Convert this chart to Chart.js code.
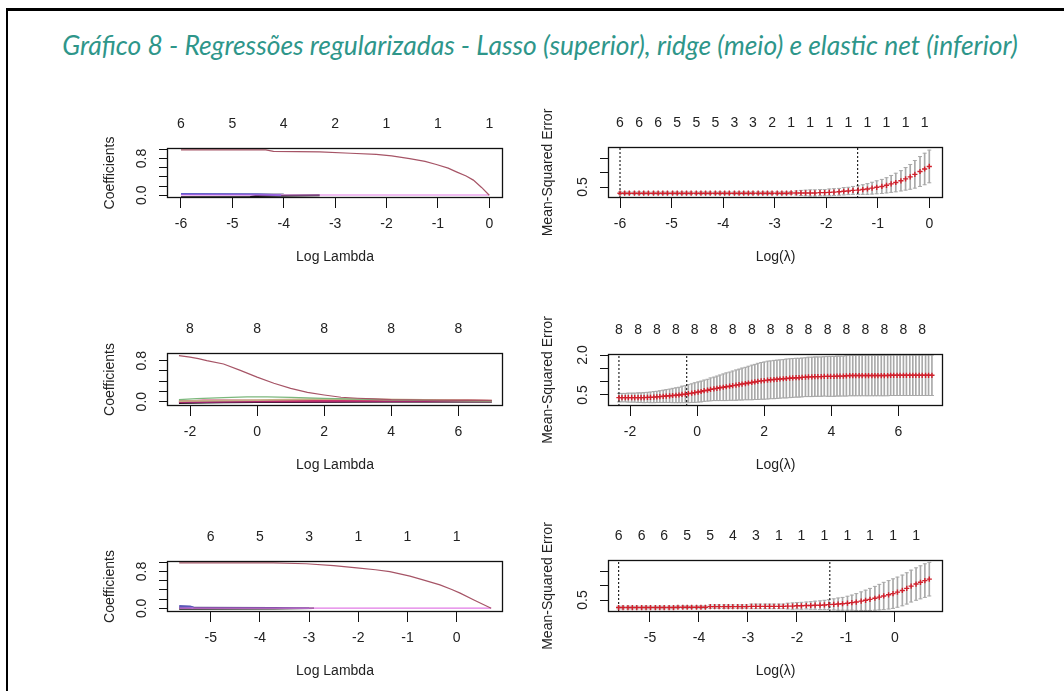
<!DOCTYPE html>
<html><head><meta charset="utf-8">
<script src="https://cdn.jsdelivr.net/npm/chart.js@4.4.1/dist/chart.umd.min.js"></script>
<style>
html,body{margin:0;padding:0;background:#fff;}
body{width:1064px;height:691px;position:relative;overflow:hidden;}
#frame{position:absolute;left:6px;top:8px;width:1100px;height:720px;border-left:2px solid #000;border-top:3px solid #000;box-sizing:border-box;}
#title{position:absolute;left:0;top:30px;white-space:nowrap;font-family:Lato,'Open Sans',sans-serif;font-style:italic;font-size:22px;line-height:1;color:#2e968a;}
canvas{position:absolute;}
</style></head><body>
<div id="frame"></div>
<div id="title">Gráfico 8 - Regressões regularizadas - Lasso (superior), ridge (meio) e elastic net (inferior)</div>
<script>
// ---------------- DATA ----------------
// Lasso: coefficient paths
const lassoCoefTopAt = [-6,-5,-4,-3,-2,-1,0];
const lassoCoefTopLabels = ['6','5','4','2','1','1','1'];
const lassoMainX = [-6.0,-4.35,-4.2,-3.3,-2.7,-2.2,-1.9,-1.55,-1.25,-1.03,-0.8,-0.64,-0.45,-0.31,-0.15,0.0];
const lassoMainY = [0.99,0.99,0.955,0.945,0.915,0.89,0.86,0.80,0.74,0.67,0.59,0.51,0.42,0.33,0.17,0.0];
const lassoZeroX = [-6.0,0.0];
const lassoZeroY = [0.005,0.005];
const lassoGrayX = [-6.0,-4.0];
const lassoGrayY = [0.035,0.03];
const lassoBlueX = [-6.0,-4.5,-4.05];
const lassoBlueY = [0.025,0.02,0.0];
const lassoBlackX = [-6.0,-4.65,-4.55,-3.3];
const lassoBlackY = [-0.045,-0.04,-0.015,0.0];

// Lasso: cross-validation
const lassoLogLambda = [-6.00,-5.91,-5.82,-5.72,-5.63,-5.54,-5.45,-5.35,-5.26,-5.17,
-5.08,-4.98,-4.89,-4.80,-4.71,-4.62,-4.52,-4.43,-4.34,-4.25,
-4.15,-4.06,-3.97,-3.88,-3.78,-3.69,-3.60,-3.51,-3.42,-3.32,
-3.23,-3.14,-3.05,-2.95,-2.86,-2.77,-2.68,-2.58,-2.49,-2.40,
-2.31,-2.22,-2.12,-2.03,-1.94,-1.85,-1.75,-1.66,-1.57,-1.48,
-1.38,-1.29,-1.20,-1.11,-1.02,-0.92,-0.83,-0.74,-0.65,-0.55,
-0.46,-0.37,-0.28,-0.18,-0.09,0.00];
const lassoCvm = [0.28,0.28,0.28,0.28,0.28,0.28,0.28,0.28,0.28,0.28,
0.28,0.28,0.28,0.28,0.28,0.28,0.28,0.28,0.28,0.28,
0.28,0.28,0.28,0.28,0.28,0.28,0.28,0.28,0.28,0.28,
0.28,0.28,0.28,0.28,0.28,0.28,0.29,0.29,0.29,0.29,
0.29,0.29,0.30,0.30,0.31,0.32,0.33,0.35,0.36,0.38,
0.39,0.41,0.43,0.46,0.49,0.52,0.56,0.61,0.66,0.72,
0.79,0.86,0.95,1.05,1.14,1.23];
const lassoCvsd = [0.05,0.05,0.05,0.05,0.05,0.05,0.05,0.05,0.05,0.05,
0.05,0.05,0.05,0.05,0.05,0.05,0.05,0.05,0.05,0.05,
0.05,0.05,0.05,0.05,0.05,0.05,0.05,0.05,0.05,0.05,
0.05,0.05,0.05,0.05,0.05,0.05,0.05,0.07,0.09,0.10,
0.11,0.11,0.11,0.11,0.12,0.12,0.12,0.13,0.13,0.14,
0.15,0.17,0.19,0.21,0.23,0.25,0.27,0.30,0.33,0.36,
0.40,0.44,0.49,0.53,0.56,0.58];
const lassoCvLines = [-6.00,-1.39];
const lassoCvTopAt = [-6.00,-5.63,-5.26,-4.89,-4.52,-4.15,-3.78,-3.42,-3.05,-2.68,-2.31,-1.94,-1.57,-1.20,-0.83,-0.46,-0.09];
const lassoCvTopLabels = ['6','6','6','5','5','5','3','3','2','1','1','1','1','1','1','1','1'];

// Ridge: coefficient paths
const ridgeCoefTopAt = [-2,0,2,4,6];
const ridgeCoefTopLabels = ['8','8','8','8','8'];
const ridgeMainX = [-2.33,-2.0,-1.75,-1.5,-1.0,-0.5,0.0,0.5,1.0,1.5,2.0,2.5,3.0,3.5,4.0,5.0,6.0,7.0];
const ridgeMainY = [0.90,0.87,0.84,0.80,0.735,0.61,0.48,0.36,0.26,0.18,0.13,0.086,0.066,0.053,0.04,0.03,0.025,0.02];
const ridgeGreenX = [-2.33,-1.8,-1.0,-0.3,0.3,1.0,2.0,3.0,4.0,5.5,7.0];
const ridgeGreenY = [0.04,0.06,0.08,0.095,0.095,0.085,0.065,0.05,0.035,0.02,0.01];
const ridgeTanX = [-2.33,0.0,1.7,2.5,3.6,5.0,7.0];
const ridgeTanY = [0.01,0.03,0.05,0.05,0.045,0.035,0.02];
const ridgeCrimsonX = [-2.33,-1.6,-1.0,0.0,1.0,2.0,4.0,6.3,7.0];
const ridgeCrimsonY = [0.0,0.025,0.025,0.02,0.015,0.02,0.025,0.03,0.02];
const ridgeMagentaX = [-2.33,-0.8,0.0,1.0,1.7,3.0,7.0];
const ridgeMagentaY = [-0.015,-0.005,0.0,0.0,0.0,0.005,0.005];
const ridgeBlackX = [-2.33,-1.5,-1.0,0.0,1.0,2.0,4.0,7.0];
const ridgeBlackY = [-0.03,-0.02,-0.015,-0.01,-0.01,-0.005,0.0,0.0];
const ridgeGrayX = [-2.33,0.5,1.7,3.0,7.0];
const ridgeGrayY = [0.015,-0.01,-0.01,0.0,0.0];

// Ridge: cross-validation
const ridgeLogLambda = [-2.33,-2.24,-2.14,-2.05,-1.95,-1.86,-1.76,-1.67,-1.58,-1.48,
-1.39,-1.29,-1.20,-1.11,-1.01,-0.92,-0.82,-0.73,-0.63,-0.54,
-0.45,-0.35,-0.26,-0.16,-0.07,0.03,0.12,0.21,0.31,0.40,
0.50,0.59,0.68,0.78,0.87,0.97,1.06,1.16,1.25,1.34,
1.44,1.53,1.63,1.72,1.81,1.91,2.00,2.10,2.19,2.29,
2.38,2.47,2.57,2.66,2.76,2.85,2.95,3.04,3.13,3.23,
3.32,3.42,3.51,3.60,3.70,3.79,3.89,3.98,4.08,4.17,
4.26,4.36,4.45,4.55,4.64,4.73,4.83,4.92,5.02,5.11,
5.21,5.30,5.39,5.49,5.58,5.68,5.77,5.86,5.96,6.05,
6.15,6.24,6.34,6.43,6.52,6.62,6.71,6.81,6.90,7.00];
const ridgeCvm = [0.40,0.40,0.40,0.40,0.40,0.40,0.40,0.40,0.40,0.41,
0.41,0.42,0.43,0.44,0.45,0.46,0.47,0.48,0.49,0.50,
0.52,0.53,0.55,0.57,0.59,0.61,0.63,0.66,0.68,0.71,
0.73,0.75,0.77,0.79,0.81,0.83,0.85,0.87,0.89,0.91,
0.93,0.95,0.97,0.99,1.01,1.03,1.04,1.06,1.07,1.08,
1.09,1.10,1.11,1.12,1.13,1.14,1.15,1.15,1.16,1.17,
1.18,1.18,1.19,1.19,1.19,1.20,1.20,1.20,1.20,1.21,
1.21,1.21,1.22,1.23,1.23,1.23,1.23,1.23,1.23,1.23,
1.23,1.23,1.23,1.23,1.23,1.23,1.24,1.24,1.24,1.24,
1.24,1.24,1.24,1.24,1.24,1.24,1.24,1.24,1.24,1.24];
const ridgeCvsd = [0.16,0.16,0.16,0.17,0.17,0.17,0.18,0.18,0.19,0.19,
0.20,0.21,0.21,0.22,0.23,0.24,0.25,0.27,0.28,0.29,
0.31,0.32,0.34,0.35,0.37,0.38,0.39,0.40,0.41,0.43,
0.44,0.46,0.48,0.50,0.52,0.53,0.55,0.57,0.58,0.60,
0.61,0.63,0.65,0.66,0.68,0.69,0.70,0.71,0.71,0.72,
0.72,0.72,0.72,0.73,0.73,0.73,0.73,0.73,0.73,0.73,
0.74,0.74,0.74,0.74,0.74,0.74,0.75,0.75,0.75,0.75,
0.75,0.75,0.76,0.76,0.76,0.76,0.76,0.76,0.76,0.76,
0.76,0.76,0.76,0.76,0.76,0.76,0.76,0.76,0.76,0.76,
0.76,0.76,0.76,0.76,0.76,0.76,0.76,0.76,0.76,0.76];
const ridgeCvLines = [-2.33,-0.31];
const ridgeCvTopAt = [-2.33,-1.76,-1.20,-0.63,-0.07,0.50,1.06,1.63,2.19,2.76,3.32,3.89,4.45,5.02,5.58,6.15,6.71];
const ridgeCvTopLabels = ['8','8','8','8','8','8','8','8','8','8','8','8','8','8','8','8','8'];

// Elastic net: coefficient paths
const enetCoefTopAt = [-5,-4,-3,-2,-1,0];
const enetCoefTopLabels = ['6','5','3','1','1','1'];
const enetMainX = [-5.64,-3.73,-3.06,-2.5,-2.03,-1.65,-1.36,-0.95,-0.65,-0.34,-0.1,0.07,0.35,0.70];
const enetMainY = [0.99,0.99,0.97,0.93,0.88,0.84,0.80,0.70,0.61,0.51,0.41,0.33,0.18,0.0];
const enetZeroX = [-5.64,0.70];
const enetZeroY = [0.005,0.005];
const enetBlueX = [-5.64,-5.42,-5.35];
const enetBlueY = [0.045,0.035,0.015];
const enetNavyX = [-5.64,-3.7,-3.0];
const enetNavyY = [0.018,0.012,0.0];
const enetBlackX = [-5.64,-3.7,-2.9];
const enetBlackY = [-0.012,-0.008,0.0];

// Elastic net: cross-validation
const enetLogLambda = [-5.64,-5.55,-5.45,-5.36,-5.27,-5.17,-5.08,-4.99,-4.89,-4.80,
-4.71,-4.61,-4.52,-4.43,-4.33,-4.24,-4.15,-4.05,-3.96,-3.87,
-3.77,-3.68,-3.59,-3.49,-3.40,-3.31,-3.21,-3.12,-3.03,-2.93,
-2.84,-2.75,-2.65,-2.56,-2.47,-2.37,-2.28,-2.19,-2.09,-2.00,
-1.91,-1.81,-1.72,-1.63,-1.53,-1.44,-1.35,-1.25,-1.16,-1.07,
-0.97,-0.88,-0.79,-0.69,-0.60,-0.51,-0.41,-0.32,-0.23,-0.13,
-0.04,0.05,0.15,0.24,0.33,0.43,0.52,0.61,0.70];
const enetCvm = [0.24,0.24,0.24,0.24,0.24,0.24,0.24,0.24,0.24,0.24,
0.24,0.24,0.24,0.25,0.25,0.25,0.25,0.25,0.25,0.25,
0.27,0.27,0.27,0.27,0.27,0.27,0.27,0.27,0.27,0.28,
0.28,0.28,0.28,0.28,0.28,0.28,0.28,0.29,0.29,0.30,
0.30,0.31,0.31,0.32,0.32,0.33,0.34,0.35,0.36,0.37,
0.39,0.41,0.43,0.46,0.49,0.52,0.56,0.60,0.64,0.68,
0.72,0.77,0.83,0.90,0.98,1.05,1.11,1.17,1.22];
const enetCvsd = [0.05,0.05,0.05,0.05,0.05,0.05,0.05,0.05,0.05,0.05,
0.05,0.05,0.05,0.05,0.05,0.05,0.05,0.05,0.05,0.05,
0.06,0.06,0.06,0.06,0.06,0.06,0.06,0.06,0.06,0.08,
0.08,0.08,0.08,0.08,0.08,0.08,0.08,0.10,0.11,0.11,
0.12,0.12,0.13,0.14,0.15,0.16,0.17,0.19,0.21,0.22,
0.24,0.26,0.29,0.32,0.35,0.38,0.41,0.44,0.47,0.49,
0.51,0.52,0.53,0.54,0.55,0.56,0.57,0.58,0.58];
const enetCvLines = [-5.64,-1.33];
const enetCvTopAt = [-5.64,-5.17,-4.71,-4.24,-3.77,-3.31,-2.84,-2.37,-1.91,-1.44,-0.97,-0.51,-0.04,0.43];
const enetCvTopLabels = ['6','6','6','5','5','4','3','1','1','1','1','1','1','1'];

// ---------------- TITLE ----------------
(function(){
  const t = document.getElementById('title');
  const w0 = t.getBoundingClientRect().width;
  const fs = 22 * 956 / w0;
  t.style.fontSize = fs + 'px';
  const w1 = t.getBoundingClientRect().width;
  t.style.left = (540 - w1/2) + 'px';
  const probe = document.createElement('span');
  probe.style.display = 'inline-block'; probe.style.width = '0'; probe.style.height = '0'; probe.style.verticalAlign = 'baseline';
  t.appendChild(probe);
  const base = probe.getBoundingClientRect().top;
  const top0 = t.getBoundingClientRect().top;
  t.style.top = (top0 + (54.5 - base)) + 'px';
})();

// ---------------- CHARTS ----------------
Chart.defaults.font.family = "'Liberation Sans', Arial, Helvetica, sans-serif";
Chart.defaults.font.size = 14;
Chart.defaults.color = '#222';
Chart.defaults.animation = false;
Chart.defaults.plugins.legend.display = false;
Chart.defaults.plugins.tooltip.enabled = false;

const boxPlugin = {
  id: 'rbox',
  afterDraw(chart) {
    const {ctx, chartArea: a} = chart;
    ctx.save();
    ctx.strokeStyle = '#111';
    ctx.lineWidth = 1.3;
    ctx.strokeRect(Math.round(a.left) + 0.5, Math.round(a.top) + 0.5, Math.round(a.right - a.left) - 1, Math.round(a.bottom - a.top) - 1);
    ctx.restore();
  }
};

function lineDS(xs, ys, color, width) {
  return { type: 'scatter', data: xs.map((x, i) => ({x: x, y: ys[i]})), showLine: true,
           borderColor: color, backgroundColor: color, borderWidth: width || 1, pointRadius: 0, fill: false, tension: 0 };
}

function cvDS(xs, m, sd, lines, yMin, yMax) {
  const caps = [];
  xs.forEach((x, i) => { caps.push({x: x, y: m[i] + sd[i]}); caps.push({x: x, y: m[i] - sd[i]}); });
  const ds = [];
  ds.push({ type: 'scatter', data: xs.map((x, i) => ({x: x, y: m[i]})), pointStyle: 'cross', pointRadius: 2.6,
            borderColor: '#d2202c', backgroundColor: '#d2202c', borderWidth: 1.4, order: 0 });
  lines.forEach(v => ds.push({ type: 'scatter', data: [{x: v, y: yMin}, {x: v, y: yMax}], showLine: true,
            borderColor: '#111', borderWidth: 1.1, borderDash: [2, 2], pointRadius: 0, order: 1 }));
  ds.push({ type: 'scatter', data: caps, pointStyle: 'line', pointRadius: 2, borderColor: '#a9a9a9', borderWidth: 1, order: 2 });
  ds.push({ type: 'bar', data: xs.map((x, i) => ({x: x, y: [m[i] - sd[i], m[i] + sd[i]]})), backgroundColor: '#a9a9a9',
            borderWidth: 0, barThickness: 1, order: 3 });
  return ds;
}

function panel(o) {
  const YW = 80, TH = 45, BH = 72, PR = 30;
  const c = document.createElement('canvas');
  const w = o.box.r - o.box.l + YW + PR;
  const h = o.box.b - o.box.t + TH + BH;
  c.width = w; c.height = h;
  c.style.left = (o.box.l - YW) + 'px'; c.style.top = (o.box.t - TH) + 'px';
  c.style.width = w + 'px'; c.style.height = h + 'px';
  document.body.appendChild(c);
  new Chart(c, {
    type: 'scatter',
    data: { datasets: o.datasets },
    options: {
      responsive: false, animation: false, events: [],
      layout: { padding: { left: 0, top: 0, right: PR, bottom: 0 } },
      scales: {
        x: { type: 'linear', position: 'bottom', min: o.xMin, max: o.xMax, offset: false,
             grid: { display: true, offset: false, drawOnChartArea: false, drawTicks: true, tickLength: 10, color: '#111', lineWidth: 1 },
             border: { display: false },
             ticks: { autoSkip: false, padding: 8.1, maxRotation: 0, minRotation: 0, color: '#222', callback: v => String(v) },
             afterBuildTicks: s => { s.ticks = o.xTicks.map(v => ({value: v})); },
             afterFit: s => { s.height = BH; s.paddingLeft = 0; s.paddingRight = 0; },
             title: { display: true, text: o.xTitle, color: '#222', padding: { top: 0, bottom: 4.6 } } },
        xTop: { axis: 'x', type: 'linear', position: 'top', min: o.xMin, max: o.xMax, offset: false,
             grid: { display: false, drawOnChartArea: false, drawTicks: false, offset: false },
             border: { display: false },
             ticks: { autoSkip: false, padding: 15.3, maxRotation: 0, minRotation: 0, color: '#222', callback: (v, i) => o.topLabels[i] },
             afterBuildTicks: s => { s.ticks = o.topAt.map(v => ({value: v})); },
             afterFit: s => { s.height = TH; s.paddingLeft = 0; s.paddingRight = 0; } },
        y: { type: 'linear', position: 'left', min: o.yMin, max: o.yMax, beginAtZero: false,
             grid: { display: true, drawOnChartArea: false, drawTicks: true, tickLength: 8, color: '#111', lineWidth: 1 },
             border: { display: false },
             ticks: { autoSkip: false, padding: 7.3, minRotation: 90, maxRotation: 90, crossAlign: 'center', color: '#222',
                      callback: (v, i) => o.yLabels[i] },
             afterBuildTicks: s => { s.ticks = o.yTicks.map(v => ({value: v})); },
             afterFit: s => { s.width = YW; s.paddingTop = 0; s.paddingBottom = 0; },
             title: { display: true, text: o.yTitle, color: '#222', padding: { top: 80 - o.yTitleOff - 8.4, bottom: 0 } } }
      }
    },
    plugins: [boxPlugin]
  });
}

const MAIN = '#a65466', ZERO = '#e27ae6';

// Lasso coefficients
panel({ box: {l: 167, t: 148, r: 503, b: 198}, xMin: -6.272, xMax: 0.267, xTicks: [-6,-5,-4,-3,-2,-1,0],
  yMin: -0.06, yMax: 1.03, yTicks: [0,0.2,0.4,0.6,0.8,1.0], yLabels: ['0.0','','','','0.8',''],
  topAt: lassoCoefTopAt, topLabels: lassoCoefTopLabels, xTitle: 'Log Lambda', yTitle: 'Coefficients', yTitleOff: 57,
  datasets: [
    lineDS(lassoMainX, lassoMainY, MAIN, 1.2),
    lineDS(lassoZeroX, lassoZeroY, ZERO, 1.2),
    lineDS(lassoBlueX, lassoBlueY, '#4a4ad0', 1.8),
    lineDS(lassoGrayX, lassoGrayY, '#a0a0b8', 1.2),
    lineDS(lassoBlackX, lassoBlackY, '#111111', 2)
  ] });

// Lasso CV
panel({ box: {l: 608, t: 147, r: 943, b: 198}, xMin: -6.233, xMax: 0.266, xTicks: [-6,-5,-4,-3,-2,-1,0],
  yMin: 0.11, yMax: 1.92, yTicks: [0.5,1.0,1.5], yLabels: ['0.5','',''],
  topAt: lassoCvTopAt, topLabels: lassoCvTopLabels, xTitle: 'Log(λ)', yTitle: 'Mean-Squared Error', yTitleOff: 60,
  datasets: cvDS(lassoLogLambda, lassoCvm, lassoCvsd, lassoCvLines, 0.11, 1.92) });

// Ridge coefficients
panel({ box: {l: 167, t: 353, r: 503, b: 406}, xMin: -2.686, xMax: 7.332, xTicks: [-2,0,2,4,6],
  yMin: -0.085, yMax: 0.95, yTicks: [0,0.2,0.4,0.6,0.8], yLabels: ['0.0','','','','0.8'],
  topAt: ridgeCoefTopAt, topLabels: ridgeCoefTopLabels, xTitle: 'Log Lambda', yTitle: 'Coefficients', yTitleOff: 57,
  datasets: [
    lineDS(ridgeMainX, ridgeMainY, MAIN, 1.2),
    lineDS(ridgeGreenX, ridgeGreenY, '#7cb87c', 1.3),
    lineDS(ridgeTanX, ridgeTanY, '#c8ae86', 1.8),
    lineDS(ridgeCrimsonX, ridgeCrimsonY, '#c8336a', 1.6),
    lineDS(ridgeMagentaX, ridgeMagentaY, '#9a2470', 1.8),
    lineDS(ridgeBlackX, ridgeBlackY, '#111111', 1.6),
    lineDS(ridgeGrayX, ridgeGrayY, '#555555', 1.4)
  ] });

// Ridge CV
panel({ box: {l: 608, t: 354, r: 943, b: 406}, xMin: -2.656, xMax: 7.33, xTicks: [-2,0,2,4,6],
  yMin: 0.086, yMax: 2.04, yTicks: [0.5,1.0,1.5,2.0], yLabels: ['0.5','','','2.0'],
  topAt: ridgeCvTopAt, topLabels: ridgeCvTopLabels, xTitle: 'Log(λ)', yTitle: 'Mean-Squared Error', yTitleOff: 60,
  datasets: cvDS(ridgeLogLambda, ridgeCvm, ridgeCvsd, ridgeCvLines, 0.086, 2.04) });

// Elastic net coefficients
panel({ box: {l: 167, t: 561, r: 503, b: 612}, xMin: -5.888, xMax: 0.941, xTicks: [-5,-4,-3,-2,-1,0],
  yMin: -0.08, yMax: 1.03, yTicks: [0,0.2,0.4,0.6,0.8,1.0], yLabels: ['0.0','','','','0.8',''],
  topAt: enetCoefTopAt, topLabels: enetCoefTopLabels, xTitle: 'Log Lambda', yTitle: 'Coefficients', yTitleOff: 57,
  datasets: [
    lineDS(enetMainX, enetMainY, MAIN, 1.2),
    lineDS(enetZeroX, enetZeroY, ZERO, 1.2),
    lineDS(enetBlueX, enetBlueY, '#5a5ab8', 2.5),
    lineDS(enetNavyX, enetNavyY, '#303070', 1.6),
    lineDS(enetBlackX, enetBlackY, '#111111', 1.6)
  ] });

// Elastic net CV
panel({ box: {l: 608, t: 560, r: 943, b: 612}, xMin: -5.857, xMax: 0.98, xTicks: [-5,-4,-3,-2,-1,0],
  yMin: 0.086, yMax: 1.88, yTicks: [0.5,1.0,1.5], yLabels: ['0.5','',''],
  topAt: enetCvTopAt, topLabels: enetCvTopLabels, xTitle: 'Log(λ)', yTitle: 'Mean-Squared Error', yTitleOff: 60,
  datasets: cvDS(enetLogLambda, enetCvm, enetCvsd, enetCvLines, 0.086, 1.88) });
</script>
</body></html>
